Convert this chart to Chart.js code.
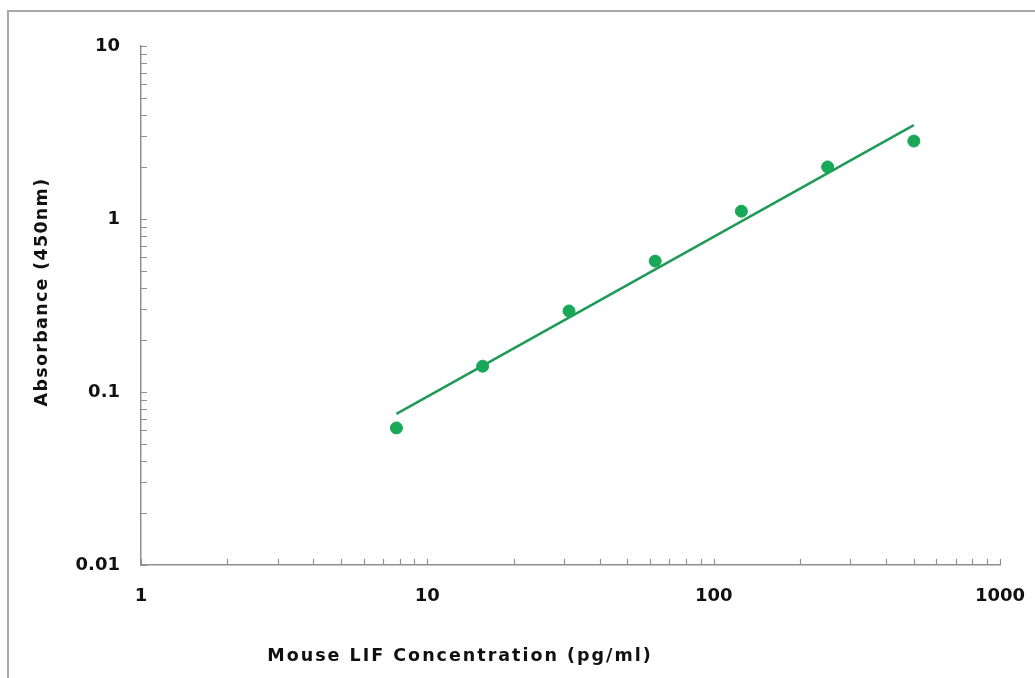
<!DOCTYPE html>
<html>
<head>
<meta charset="utf-8">
<script src="https://cdn.jsdelivr.net/npm/chart.js@4.4.1/dist/chart.umd.min.js"></script>
<style>
  html, body { margin: 0; padding: 0; background: #fff; overflow: hidden; }
  #frame { position: absolute; left: 7px; top: 10px; width: 1040px; height: 690px; border: 2px solid #a8a8a8; box-sizing: border-box; }
  #chart { position: absolute; left: 0; top: 0; }
</style>
</head>
<body>
<div id="frame"></div>
<canvas id="chart" width="1035" height="678"></canvas>
<script>
// standard concentrations (pg/ml) and measured OD
const concentrations = [7.8, 15.6, 31.25, 62.5, 125, 250, 500];
const absorbance = [0.062, 0.141, 0.294, 0.571, 1.11, 2.0, 2.82];

// fitted line endpoints
const fitX = [7.8, 500];
const fitY = [0.0747, 3.49];

const xTicks = [1, 10, 100, 1000];
const xTickLabels = ['1', '10', '100', '1000'];
const yTicks = [0.01, 0.1, 1, 10];
const yTickLabels = ['0.01', '0.1', '1', '10'];

const xTitle = 'Mouse LIF Concentration (pg/ml)';
const yTitle = 'Absorbance (450nm)';

const green = '#19a857';
const lineGreen = '#1f9a58';
const axisGray = '#8f8f8f';
const fontFamily = '"DejaVu Sans", Arial, sans-serif';
const labelFont = { family: fontFamily, size: 18, weight: 'bold' };

// inward major + minor ticks and the axis titles
const decorPlugin = {
    id: 'decor',
    afterDraw(chart) {
        const { ctx, chartArea, scales: { x, y } } = chart;
        ctx.save();
        ctx.strokeStyle = axisGray;
        ctx.lineWidth = 1.2;
        ctx.beginPath();
        for (let d = 0; d < 3; d++) {
            for (let k = 1; k <= 10; k++) {
                const px = Math.round(x.getPixelForValue(k * Math.pow(10, d))) + 0.5;
                ctx.moveTo(px, chartArea.bottom);
                ctx.lineTo(px, chartArea.bottom - 6);
            }
        }
        for (let d = -2; d < 1; d++) {
            for (let k = 1; k <= 10; k++) {
                const py = Math.round(y.getPixelForValue(k * Math.pow(10, d))) + 0.5;
                ctx.moveTo(chartArea.left, py);
                ctx.lineTo(chartArea.left + 6, py);
            }
        }
        ctx.stroke();

        ctx.fillStyle = '#111';
        ctx.font = 'bold 17.5px ' + fontFamily;
        ctx.textAlign = 'center';
        ctx.textBaseline = 'middle';
        ctx.letterSpacing = '2px';
        ctx.fillText(xTitle, 460, 656);

        ctx.translate(42, 292);
        ctx.rotate(-Math.PI / 2);
        ctx.letterSpacing = '1.3px';
        ctx.fillText(yTitle, 0, 0);
        ctx.restore();
    }
};

new Chart(document.getElementById('chart'), {
    type: 'scatter',
    data: {
        datasets: [{
            label: 'Standards',
            data: concentrations.map((c, i) => ({ x: c, y: absorbance[i] })),
            backgroundColor: green,
            borderColor: green,
            pointRadius: 6,
            pointHoverRadius: 6,
            order: 0
        }, {
            label: 'Fit',
            data: fitX.map((c, i) => ({ x: c, y: fitY[i] })),
            showLine: true,
            borderColor: lineGreen,
            borderWidth: 2.5,
            pointRadius: 0,
            order: 1
        }]
    },
    options: {
        responsive: false,
        devicePixelRatio: 1,
        animation: false,
        layout: { padding: { left: 61, top: 46, right: 35, bottom: 68 } },
        plugins: { legend: { display: false }, tooltip: { enabled: false } },
        scales: {
            x: {
                type: 'logarithmic',
                min: 1,
                max: 1000,
                afterBuildTicks: s => { s.ticks = xTicks.map(v => ({ value: v })); },
                afterFit: s => { s.height = 45; s.paddingLeft = 0; s.paddingRight = 0; },
                grid: { display: false, drawTicks: false },
                border: { display: true, color: axisGray, width: 1.5 },
                ticks: {
                    color: '#111',
                    font: labelFont,
                    padding: 21,
                    maxRotation: 0,
                    autoSkip: false,
                    callback: (v, i) => xTickLabels[i]
                }
            },
            y: {
                type: 'logarithmic',
                min: 0.01,
                max: 10,
                afterBuildTicks: s => { s.ticks = yTicks.map(v => ({ value: v })); },
                afterFit: s => { s.width = 80; s.paddingTop = 0; s.paddingBottom = 0; },
                grid: { display: false, drawTicks: false },
                border: { display: true, color: axisGray, width: 1.5 },
                ticks: {
                    color: '#111',
                    font: labelFont,
                    padding: 21,
                    autoSkip: false,
                    callback: (v, i) => yTickLabels[i]
                }
            }
        }
    },
    plugins: [decorPlugin]
});
</script>
</body>
</html>
